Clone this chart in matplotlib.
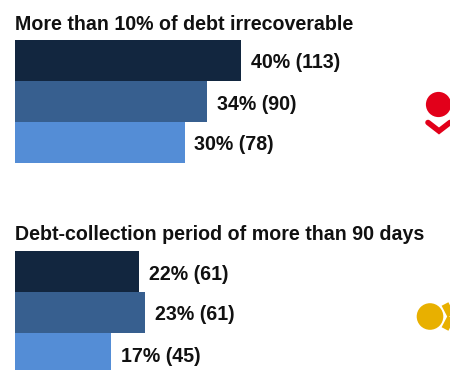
import matplotlib
matplotlib.use('Agg')
import matplotlib.pyplot as plt
from matplotlib.patches import Circle

plt.rcParams['font.family'] = ['Liberation Sans']

WIDTH, HEIGHT = 450, 370

title_top = 'More than 10% of debt irrecoverable'
title_bottom = 'Debt-collection period of more than 90 days'
shares_top = [40, 34, 30]
counts_top = [113, 90, 78]
shares_bottom = [22, 23, 17]
counts_bottom = [61, 61, 45]
colors = ['#12263f', '#375f8f', '#548dd6']


def panel(top_px, shares, counts, title, title_y):
    # axes spans three 41px rows starting at top_px, 5.65px per percentage point
    ax = fig.add_axes([15 / WIDTH, 1 - (top_px + 123) / HEIGHT, 226 / WIDTH, 123 / HEIGHT])
    ax.set_xlim(0, 40)
    ax.set_ylim(2.5, -0.5)
    ax.axis('off')
    ax.barh(range(3), shares, height=1, color=colors, edgecolor='none')
    for i, (s, c) in enumerate(zip(shares, counts)):
        ax.annotate(f'{s}% ({c})', (s, i), xytext=(10, -2.5), textcoords='offset pixels',
                    va='center', ha='left', fontsize=14.1, fontweight='bold', color='#111111',
                    annotation_clip=False)
    fig.text(15 / WIDTH, 1 - title_y / HEIGHT, title, fontsize=14.1, fontweight='bold',
             color='#111111', va='center', ha='left')


fig = plt.figure(figsize=(WIDTH / 100, HEIGHT / 100), dpi=100)

panel(40, shares_top, counts_top, title_top, 24)
panel(251, shares_bottom, counts_bottom, title_bottom, 234.5)

# status icons on the right edge, in pixel coordinates
icons = fig.add_axes([0, 0, 1, 1], zorder=-1)
icons.set_xlim(0, WIDTH)
icons.set_ylim(HEIGHT, 0)
icons.axis('off')
icons.add_patch(Circle((438.5, 104.5), 12.6, color='#e2001a', lw=0))
icons.plot([428, 439, 450], [122.5, 131, 122.5], color='#e2001a', lw=4, solid_capstyle='round',
           solid_joinstyle='miter')
icons.add_patch(Circle((430, 316.5), 13.3, color='#e8b000', lw=0))
icons.plot([445, 458], [304, 329], color='#e8b000', lw=5.5, solid_capstyle='butt')
icons.plot([445, 458], [329, 304], color='#e8b000', lw=5.5, solid_capstyle='butt')

fig.savefig('out.png', dpi=100)
